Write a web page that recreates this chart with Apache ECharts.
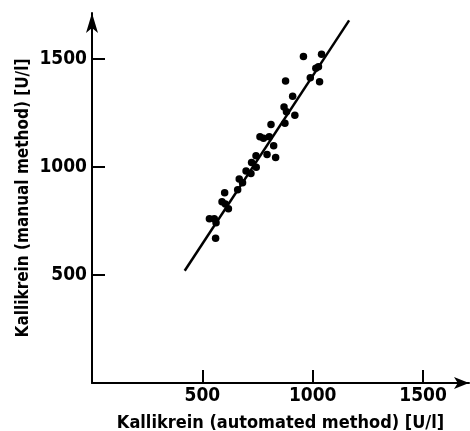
<!DOCTYPE html>
<html>
<head>
<meta charset="utf-8">
<script src="https://cdn.jsdelivr.net/npm/echarts@6/dist/echarts.min.js"></script>
<style>
  html, body { margin: 0; padding: 0; background: #fff; }
  #main { width: 470px; height: 431px; }
</style>
</head>
<body>
<div id="main"></div>
<script>
// automated method (x) vs manual method (y), U/l
var autoVals = [958, 1040, 1026, 1014, 989, 1031, 877, 909, 870, 881, 919, 874, 811, 761, 803, 777,
  823, 793, 832, 743, 723, 744, 698, 720, 667, 682, 660, 601, 589, 604, 618, 532, 554, 562, 560];
var manualVals = [1512, 1523, 1465, 1458, 1414, 1396, 1399, 1328, 1279, 1257, 1240, 1203, 1198, 1141, 1141, 1134,
  1099, 1059, 1045, 1053, 1022, 999, 982, 971, 945, 928, 895, 881, 840, 829, 807, 761, 761, 742, 671];
// regression line end points
var lineX = [420, 1165];
var lineY = [520, 1680];
var tickValues = [500, 1000, 1500];

var points = autoVals.map(function (v, i) { return [v, manualVals[i]]; });
var linePts = lineX.map(function (v, i) { return [v, lineY[i]]; });

var font = '"DejaVu Sans Condensed", sans-serif';
var plain = function (v) { return String(v); };

var chart = echarts.init(document.getElementById('main'));
chart.setOption({
  animation: false,
  backgroundColor: '#fff',
  grid: { left: 92, width: 377, top: 13, height: 370, outerBoundsMode: 'none', containLabel: false },
  xAxis: {
    type: 'value',
    min: 0, max: 1708,
    name: 'Kallikrein (automated method) [U/l]',
    nameLocation: 'middle',
    nameGap: 31,
    nameTextStyle: { color: '#000', fontFamily: font, fontWeight: 'bold', fontSize: 18 },
    axisLine: { lineStyle: { color: '#000', width: 2 }, symbol: ['none', 'arrow'], symbolSize: [9, 15] },
    axisTick: { inside: true, length: 13, lineStyle: { color: '#000', width: 2 }, customValues: tickValues },
    axisLabel: { color: '#000', fontFamily: font, fontWeight: 'bold', fontSize: 19, margin: 4, formatter: plain, customValues: tickValues },
    splitLine: { show: false }
  },
  yAxis: {
    type: 'value',
    min: 0, max: 1714,
    name: 'Kallikrein (manual method) [U/l]',
    nameLocation: 'middle',
    nameGap: 60,
    nameMoveOverlap: false,
    nameTextStyle: { color: '#000', fontFamily: font, fontWeight: 'bold', fontSize: 17 },
    axisLine: { lineStyle: { color: '#000', width: 2 }, symbol: ['none', 'arrow'], symbolSize: [9, 20] },
    axisTick: { inside: true, length: 13, lineStyle: { color: '#000', width: 2 }, customValues: tickValues },
    axisLabel: { color: '#000', fontFamily: font, fontWeight: 'bold', fontSize: 19, margin: 5, formatter: plain, customValues: tickValues },
    splitLine: { show: false }
  },
  series: [{
    type: 'line',
    data: linePts,
    symbol: 'none',
    lineStyle: { color: '#000', width: 2.5 },
    z: 2
  }, {
    type: 'scatter',
    data: points,
    symbolSize: 7.5,
    itemStyle: { color: '#000', opacity: 1 },
    z: 3
  }]
});
</script>
</body>
</html>
